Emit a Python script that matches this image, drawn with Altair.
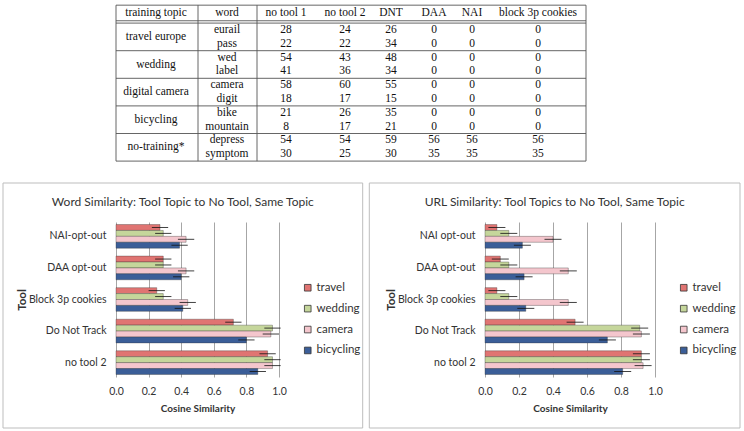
import altair as alt
import pandas as pd

# ---------------- table values ----------------
table_columns = ["training topic", "word", "no tool 1", "no tool 2", "DNT", "DAA", "NAI", "block 3p cookies"]
training_topics = ["travel europe", "wedding", "digital camera", "bicycling", "no-training*"]
words = ["eurail", "pass", "wed", "label", "camera", "digit", "bike", "mountain", "depress", "symptom"]
no_tool_1 = [28, 22, 54, 41, 58, 18, 21, 8, 54, 30]
no_tool_2 = [24, 22, 43, 36, 60, 17, 26, 17, 54, 25]
dnt = [26, 34, 48, 34, 55, 15, 35, 21, 59, 30]
daa = [0, 0, 0, 0, 0, 0, 0, 0, 56, 35]
nai = [0, 0, 0, 0, 0, 0, 0, 0, 56, 35]
block_3p = [0, 0, 0, 0, 0, 0, 0, 0, 56, 35]

# ---------------- bar chart values ----------------
tools_word = ["NAI-opt-out", "DAA opt-out", "Block 3p cookies", "Do Not Track", "no tool 2"]
tools_url = ["NAI opt-out", "DAA opt-out", "Block 3p cookies", "Do Not Track", "no tool 2"]
topics = ["travel", "wedding", "camera", "bicycling"]
x_ticks = [0.0, 0.2, 0.4, 0.6, 0.8, 1.0]

word_travel = [0.27, 0.29, 0.25, 0.72, 0.93]
word_wedding = [0.29, 0.29, 0.29, 0.96, 0.96]
word_camera = [0.43, 0.43, 0.44, 0.95, 0.96]
word_bicycling = [0.39, 0.40, 0.41, 0.80, 0.87]
word_err = [0.05, 0.05, 0.05, 0.05, 0.05]

url_travel = [0.07, 0.09, 0.07, 0.53, 0.92]
url_wedding = [0.14, 0.14, 0.14, 0.91, 0.92]
url_camera = [0.40, 0.49, 0.49, 0.92, 0.93]
url_bicycling = [0.22, 0.23, 0.24, 0.72, 0.81]
url_err = [0.05, 0.05, 0.05, 0.05, 0.05]

topic_colors = ["#E07472", "#C5D69B", "#F4C6CD", "#3B5E98"]

SANS = "Lato"
SERIF = "Liberation Serif, Times New Roman, serif"
TEXT = "#333333"

# ---------------- table ----------------
# column centres and borders inside the table view (pixels)
col_center = dict(zip(table_columns, [40, 111, 170, 229, 275, 318, 356, 422]))
col_borders = [0, 82, 141, 470]
TABLE_W, TABLE_H = 470, 157
HEADER_ROW, HEADER_TOP, HEADER_BOTTOM, BODY_TOP = -1.25, -1.8, -0.67, -0.5

cells = []
for c in table_columns:
    cells.append({"row": HEADER_ROW, "cx": col_center[c], "label": c})
for g, t in enumerate(training_topics):
    cells.append({"row": 2 * g + 0.5, "cx": col_center["training topic"], "label": t})
value_cols = [words, no_tool_1, no_tool_2, dnt, daa, nai, block_3p]
for r in range(len(words)):
    for name, vals in zip(table_columns[1:], value_cols):
        cells.append({"row": r, "cx": col_center[name], "label": str(vals[r])})
cells_df = pd.DataFrame(cells)

last = len(words) - 0.5
segs = []
for yr in [HEADER_TOP, HEADER_BOTTOM, BODY_TOP, 1.5, 3.5, 5.5, 7.5, last]:
    segs.append({"x": 0, "x2": TABLE_W, "row": yr, "row2": yr})
for xb in col_borders:
    segs.append({"x": xb, "x2": xb, "row": HEADER_TOP, "row2": last})
segs_df = pd.DataFrame(segs)

row_scale = alt.Scale(domain=[0, 9], range=[25, 149.2], zero=False, nice=False)

table_text = alt.Chart(cells_df).mark_text(
    font=SERIF, fontSize=11.5, color="#111", baseline="middle", align="center"
).encode(
    x=alt.X("cx:Q", scale=None, axis=None),
    y=alt.Y("row:Q", scale=row_scale, axis=None),
    text="label:N",
)
table_lines = alt.Chart(segs_df).mark_rule(color="#555", strokeWidth=0.9).encode(
    x=alt.X("x:Q", scale=None, axis=None),
    x2="x2:Q",
    y=alt.Y("row:Q", scale=row_scale, axis=None),
    y2="row2:Q",
)
table = alt.layer(table_lines, table_text).properties(width=TABLE_W, height=TABLE_H)


# ---------------- grouped bar panels ----------------
def long_frame(tools, series, err):
    rows = []
    for topic, vals in zip(topics, series):
        for tool, v, e in zip(tools, vals, err):
            rows.append({"tool": tool, "topic": topic, "value": v, "err": e})
    return pd.DataFrame(rows)


def panel(title, tools, series, err, width, frame, legend_x):
    df = long_frame(tools, series, err)
    x_scale = alt.Scale(domain=[0, 1], nice=False, zero=True)
    y_enc = alt.Y(
        "tool:N", sort=tools,
        scale=alt.Scale(paddingInner=0.25, paddingOuter=0.08),
        axis=alt.Axis(
            title="Tool", titleFont=SANS, titleFontSize=11.5, titleFontWeight="bold",
            titleColor=TEXT, titleX=-94, titleY=77.5, titleBaseline="middle",
            titleAlign="center", titleAngle=270,
            labelFont=SANS, labelFontSize=10.5,
            labelColor=TEXT, labelPadding=10, ticks=False, domain=False,
        ),
    )
    yoff = alt.YOffset("topic:N", sort=topics)

    bars = alt.Chart(df).mark_bar(stroke="#333", strokeWidth=0.5, strokeOpacity=0.7).encode(
        x=alt.X(
            "value:Q", scale=x_scale,
            axis=alt.Axis(
                values=x_ticks, tickCount=len(x_ticks), format=".1f",
                title="Cosine Similarity", titleFont=SANS, titleFontSize=10,
                titleFontWeight="bold", titleColor=TEXT, titlePadding=7,
                labelFont=SANS, labelFontSize=10.5, labelColor=TEXT, labelPadding=9,
                labelOverlap=False, labelFlush=False, ticks=False, domain=False,
                grid=True, gridColor="#A6A6A6", gridWidth=1,
            ),
        ),
        y=y_enc,
        yOffset=yoff,
        color=alt.Color(
            "topic:N", sort=topics,
            scale=alt.Scale(domain=topics, range=topic_colors),
            legend=alt.Legend(
                title=None, orient="none", legendX=legend_x, legendY=60,
                symbolType="square", symbolSize=44, symbolStrokeColor="#333",
                symbolStrokeWidth=0.8, labelFont=SANS, labelFontSize=11.5,
                labelColor=TEXT, rowPadding=7.9, labelOffset=3, padding=0,
            ),
        ),
    )
    errs = alt.Chart(df).transform_calculate(
        lo="datum.value - datum.err", hi="datum.value + datum.err"
    ).mark_rule(color="#111", strokeWidth=0.8).encode(
        x="lo:Q", x2="hi:Q", y=alt.Y("tool:N", sort=tools), yOffset=yoff,
    )
    x0, x1, y0, y1 = frame
    border = alt.Chart(alt.Data(values=[{}])).mark_rect(
        filled=False, stroke="#BDBDBD", strokeWidth=1
    ).encode(x=alt.value(x0), x2=alt.value(x1), y=alt.value(y0), y2=alt.value(y1))
    return alt.layer(border, bars, errs).properties(
        width=width, height=155,
        title=alt.TitleParams(
            title, font=SANS, fontSize=12, fontWeight="normal", color=TEXT,
            anchor="middle", frame="bounds", baseline="middle", offset=-31,
        ),
    )


left = panel(
    "Word Similarity: Tool Topic to No Tool, Same Topic", tools_word,
    [word_travel, word_wedding, word_camera, word_bicycling], word_err,
    163, (-113, 246.7, -39, 206), 186,
)
right = panel(
    "URL Similarity: Tool Topics to No Tool, Same Topic", tools_url,
    [url_travel, url_wedding, url_camera, url_bicycling], url_err,
    170, (-115.7, 255, -39, 206), 193,
)

bottom = alt.hconcat(left, right, spacing=206, bounds="flush").resolve_scale(
    color="independent", x="independent", y="independent"
).resolve_legend(color="independent")

chart = alt.vconcat(
    table, bottom, spacing=60, bounds="flush",
).properties(
    padding={"left": 2, "top": 4, "right": 0, "bottom": 0},
    background="white",
).configure_view(stroke=None)

chart.save("out.html", embed_options={"renderer": "svg", "actions": False})
